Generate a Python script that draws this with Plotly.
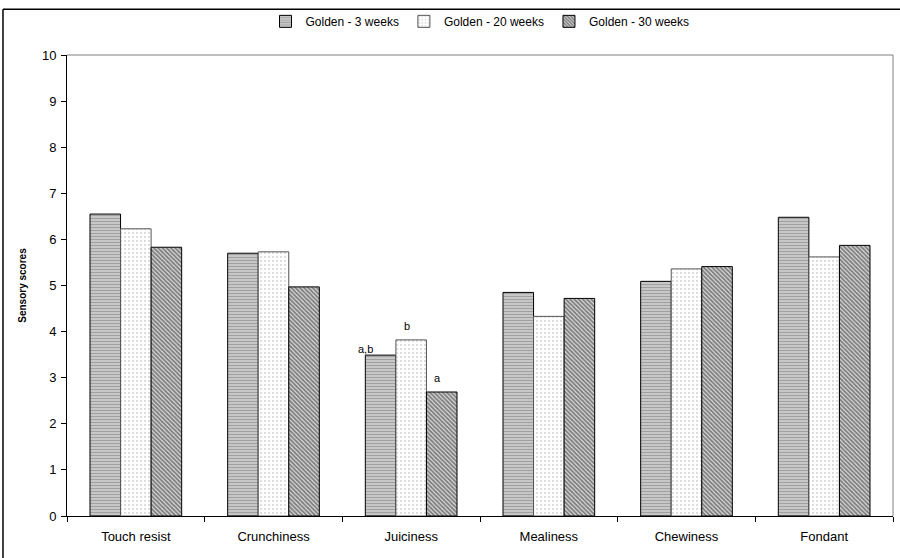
import plotly.graph_objects as go

# Sensory attributes and mean panel scores for Golden apples at three storage times
attributes = ["Touch resist", "Crunchiness", "Juiciness", "Mealiness", "Chewiness", "Fondant"]
series_names = ["Golden - 3 weeks", "Golden - 20 weeks", "Golden - 30 weeks"]
scores_3w = [6.55, 5.70, 3.49, 4.85, 5.09, 6.48]
scores_20w = [6.23, 5.73, 3.82, 4.33, 5.36, 5.62]
scores_30w = [5.83, 4.97, 2.69, 4.72, 5.41, 5.87]

# Significance letters shown for Juiciness
sig_labels = ["a,b", "b", "a"]
sig_y = [3.63, 4.12, 3.00]
sig_xshift = [-46, -4, 26]

FONT = "Liberation Sans, Arial, sans-serif"

patterns = [
    dict(shape="-", fgcolor="#6e6e6e", bgcolor="#d4d4d4", size=3, solidity=0.5),
    dict(shape=".", fgcolor="#b8b8b8", bgcolor="#ffffff", size=4, solidity=0.25),
    dict(shape="\\", fgcolor="#1e1e1e", bgcolor="#dcdcdc", size=3, solidity=0.6),
]
outlines = ["#000000", "#555555", "#000000"]

fig = go.Figure()
for name, vals, pat, lc in zip(series_names, [scores_3w, scores_20w, scores_30w], patterns, outlines):
    fig.add_trace(go.Bar(
        x=attributes, y=vals, name=name,
        marker=dict(color=pat["bgcolor"], pattern=pat, line=dict(color=lc, width=1)),
    ))

for lab, yv, xs in zip(sig_labels, sig_y, sig_xshift):
    fig.add_annotation(x="Juiciness", y=yv, text=lab, showarrow=False, xshift=xs,
                       font=dict(family=FONT, size=11, color="#000000"))

# Plot-area frame (top and right) and the outer chart border (top and left)
fig.add_shape(type="line", xref="paper", yref="paper", x0=0, x1=1, y0=1, y1=1,
              line=dict(color="#808080", width=1))
fig.add_shape(type="line", xref="paper", yref="paper", x0=1, x1=1, y0=0, y1=1,
              line=dict(color="#808080", width=1))
fig.add_shape(type="line", xref="paper", yref="paper", x0=-0.0775, x1=1.01, y0=1.099, y1=1.099,
              line=dict(color="#000000", width=1.5))
fig.add_shape(type="line", xref="paper", yref="paper", x0=-0.0775, x1=-0.0775, y0=-0.1, y1=1.099,
              line=dict(color="#000000", width=1.5))

fig.update_layout(
    width=900, height=558,
    margin=dict(l=67, r=7, t=51, b=42),
    paper_bgcolor="white", plot_bgcolor="white",
    barmode="group", bargap=0.334, bargroupgap=0,
    font=dict(family=FONT, size=12, color="#000000"),
    legend=dict(orientation="h", x=0.5, xanchor="center", y=1.073, yanchor="middle",
                bgcolor="rgba(0,0,0,0)",
                font=dict(family=FONT, size=12), itemwidth=30, tracegroupgap=0),
    xaxis=dict(showline=True, linecolor="#000000", linewidth=1, ticks="outside",
               tickson="boundaries", ticklen=5, tickcolor="#000000", showgrid=False,
               ticklabelstandoff=8, tickfont=dict(family=FONT, size=13)),
    yaxis=dict(range=[0, 10], dtick=1, showline=True, linecolor="#000000", linewidth=1,
               ticks="outside", ticklen=5, tickcolor="#000000", showgrid=False,
               zeroline=False, ticklabelstandoff=2, tickfont=dict(family=FONT, size=13),
               title=dict(text="<b>Sensory scores</b>", font=dict(family=FONT, size=10), standoff=13)),
)

fig.write_html("out.html")
